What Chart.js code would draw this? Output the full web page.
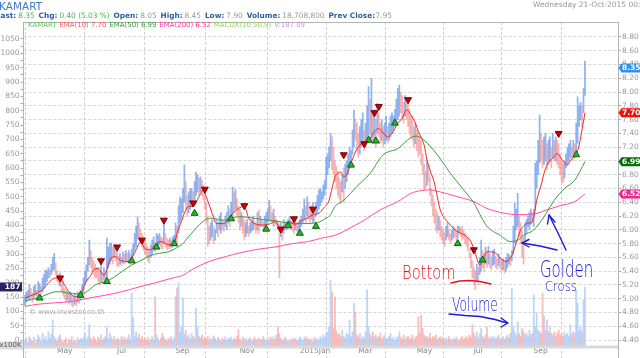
<!DOCTYPE html>
<html><head><meta charset="utf-8">
<script src="https://cdn.jsdelivr.net/npm/chart.js@4.4.1/dist/chart.umd.min.js"></script>
<style>html,body{margin:0;padding:0;background:#fff;overflow:hidden}canvas{display:block}</style>
</head><body>
<canvas id="c" width="640" height="358" style="width:640px;height:358px"></canvas>
<script>
const symbol = 'KAMART';
const quote = {last: 8.35, chg: 0.40, chgPct: 5.03, open: 8.05, high: 8.45, low: 7.90, volume: '18,708,800', prevClose: 7.95, date: 'Wednesday 21-Oct-2015 00:00'};
const monthLabels = ['May','Jul','Sep','Nov','2015Jan','Mar','May','Jul','Sep'];
const monthStart = [21,62,102,146,187,227,267,306,347];
const leftTicks = [0,25,50,75,100,125,150,175,200,225,250,275,300,325,350,375,400,425,450,475,500,525,550,575,600,625,650,675,700,725,750,775,800,825,850,875,900,925,950,975,1000,1025,1050];
const rightTicks = [4.4,4.6,4.8,5.0,5.2,5.4,5.6,5.8,6.0,6.2,6.4,6.6,6.8,7.0,7.2,7.4,7.6,7.8,8.0,8.2,8.4,8.6,8.8];

const low = [
4.90,4.95,5.00,4.98,5.02,4.95,5.00,5.05,5.00,5.05,
5.10,5.05,5.10,5.15,5.20,5.25,5.30,5.30,5.35,5.40,
5.42,5.35,5.25,5.20,5.18,5.10,5.05,5.00,4.95,4.98,
4.92,4.95,4.90,4.88,4.92,4.90,4.95,4.93,4.98,5.05,
5.10,5.20,5.25,5.40,5.49,5.45,5.40,5.35,5.30,5.30,
5.25,5.20,5.25,5.22,5.28,5.23,5.30,5.45,5.50,5.55,
5.50,5.60,5.55,5.48,5.46,5.50,5.48,5.52,5.50,5.55,
5.52,5.55,5.50,5.58,5.62,5.70,5.75,5.88,5.85,5.80,
5.75,5.70,5.65,5.60,5.55,5.52,5.60,5.65,5.70,5.68,
5.72,5.75,5.78,5.75,5.72,5.80,5.75,5.72,5.71,5.75,
5.72,5.75,5.78,5.80,5.76,5.95,6.10,6.15,6.25,6.40,
6.30,6.20,6.25,6.30,6.35,6.34,6.40,6.50,6.55,6.50,
6.55,6.50,6.43,6.30,6.10,5.76,5.80,5.85,5.90,5.80,
5.85,5.95,5.90,6.00,5.95,6.00,5.98,6.05,6.00,6.10,
6.05,6.15,6.20,6.25,6.30,6.20,6.10,6.00,6.05,5.95,
5.85,5.90,5.95,5.90,5.95,5.98,6.00,6.02,5.95,6.00,
5.95,6.05,6.05,6.00,6.02,6.05,6.10,6.15,6.12,6.10,
6.05,6.08,6.05,6.00,5.30,5.90,5.85,5.95,6.00,6.00,
6.02,6.05,6.00,5.98,5.95,6.00,5.98,5.95,6.00,6.05,
6.10,6.15,6.10,6.20,6.15,6.10,6.15,6.10,6.12,6.20,
6.25,6.30,6.35,6.40,6.45,6.50,6.60,6.80,6.90,7.00,
6.87,6.80,6.70,6.60,6.50,6.45,6.38,6.55,6.40,6.60,
6.70,6.80,6.90,6.95,7.10,7.20,7.30,7.15,7.05,7.10,
7.20,7.25,7.15,7.20,7.30,7.35,7.40,7.30,7.25,7.30,
7.20,7.40,7.35,7.25,7.30,7.20,7.25,7.30,7.26,7.30,
7.35,7.40,7.45,7.50,7.55,7.60,7.65,7.70,7.60,7.55,
7.65,7.60,7.50,7.40,7.35,7.30,7.20,7.25,7.15,7.06,
7.10,6.95,6.80,6.58,6.60,6.65,6.70,6.50,6.35,6.20,
6.10,6.00,5.95,6.00,5.90,5.85,5.80,5.76,5.85,5.90,
5.85,5.81,5.85,5.88,5.90,5.85,5.88,5.95,5.90,5.85,
5.88,5.80,5.76,5.70,5.60,5.45,5.30,5.20,5.13,5.25,
5.20,5.35,5.40,5.45,5.40,5.50,5.45,5.50,5.45,5.42,
5.48,5.50,5.45,5.42,5.48,5.44,5.40,5.42,5.37,5.40,
5.45,5.50,5.48,5.55,5.65,5.80,6.00,6.05,5.90,5.80,
5.60,5.50,5.85,5.95,6.05,6.00,6.08,6.10,6.05,6.29,
6.60,6.80,6.97,7.00,6.90,6.95,7.00,6.87,6.95,7.00,
6.90,7.05,7.00,7.00,6.95,6.90,6.80,6.70,6.68,6.75,
6.90,6.95,7.00,7.05,7.00,7.10,7.05,7.15,7.26,7.50,
7.60,7.50,7.70,7.95];

const high = [
5.05,5.10,5.12,5.20,5.15,5.08,5.18,5.20,5.12,5.25,
5.22,5.18,5.30,5.35,5.42,5.40,5.45,5.42,5.50,5.60,
5.66,5.52,5.40,5.35,5.37,5.30,5.25,5.15,5.12,5.10,
5.08,5.10,5.05,5.02,5.08,5.00,5.10,5.05,5.12,5.20,
5.30,5.40,5.49,5.60,5.85,5.70,5.60,5.55,5.50,5.45,
5.45,5.40,5.50,5.38,5.45,5.40,5.88,5.75,5.80,5.81,
5.75,5.78,5.72,5.70,5.62,5.66,5.60,5.68,5.65,5.70,
5.66,5.70,5.65,5.72,5.80,5.95,6.05,6.19,6.10,6.00,
5.95,5.90,5.85,5.80,5.75,5.70,5.78,5.85,5.90,5.82,
5.95,5.92,5.95,5.90,5.88,6.15,5.95,5.88,5.85,5.88,
5.85,5.90,5.92,6.10,6.05,6.35,6.48,6.45,6.60,6.94,
6.70,6.50,6.55,6.60,6.60,6.55,6.70,6.84,6.80,6.75,
6.77,6.72,6.65,6.55,6.40,6.20,6.05,6.10,6.15,6.05,
6.00,6.15,6.10,6.20,6.25,6.15,6.12,6.20,6.25,6.35,
6.30,6.40,6.62,6.55,6.58,6.45,6.34,6.30,6.25,6.20,
6.15,6.10,6.15,6.05,6.10,6.15,6.20,6.12,6.10,6.25,
6.29,6.20,6.15,6.12,6.20,6.25,6.30,6.43,6.35,6.25,
6.30,6.20,6.15,6.12,6.08,6.10,6.05,6.15,6.10,6.12,
6.15,6.19,6.12,6.10,6.08,6.12,6.05,6.10,6.15,6.20,
6.30,6.45,6.35,6.48,6.40,6.30,6.35,6.40,6.30,6.40,
6.50,6.58,6.60,6.55,6.65,6.72,7.06,7.10,7.20,7.40,
7.35,7.20,7.00,6.92,6.85,6.75,6.70,6.80,6.90,6.95,
7.00,7.10,7.20,7.15,7.45,7.74,7.60,7.55,7.40,7.50,
7.60,7.70,7.45,7.55,7.80,8.08,7.90,8.20,7.70,7.75,
7.60,7.84,7.70,7.55,7.60,7.50,7.55,7.65,7.50,7.55,
7.65,7.70,7.65,7.75,7.90,8.05,8.10,8.00,7.95,7.85,
7.95,7.90,7.84,7.75,7.65,7.64,7.50,7.55,7.45,7.40,
7.35,7.30,7.10,6.95,6.85,7.01,6.95,6.77,6.60,6.50,
6.40,6.30,6.25,6.20,6.14,6.05,6.00,5.95,6.05,6.10,
6.00,5.95,6.00,6.05,6.02,5.98,6.05,6.05,6.02,6.05,
6.00,5.95,5.90,5.88,5.71,5.66,5.55,5.45,5.40,5.50,
5.45,5.60,5.85,5.70,5.65,5.75,5.70,5.76,5.65,5.60,
5.70,5.72,5.62,5.58,5.65,5.60,5.56,5.58,5.55,5.60,
5.66,5.64,5.62,5.70,6.05,6.39,6.30,6.53,6.20,6.10,
6.00,5.90,6.10,6.15,6.20,6.25,6.30,6.25,6.30,6.97,
7.00,7.30,7.67,7.40,7.30,7.35,7.40,7.25,7.30,7.35,
7.20,7.40,7.30,7.35,7.30,7.25,7.10,7.00,6.95,7.00,
7.10,7.20,7.25,7.30,7.20,7.30,7.25,7.55,7.93,7.80,
7.85,7.80,8.05,8.45];

const volume = [
18,25,12,30,22,15,28,10,20,35,26,14,40,22,30,18,45,25,38,82,
30,22,15,28,35,20,12,18,25,10,22,16,30,14,20,12,26,18,24,20,
28,42,20,30,67,25,18,30,22,15,28,20,35,18,25,30,60,22,40,28,
20,30,18,25,22,15,30,20,28,18,24,35,20,168,90,30,45,25,38,22,
30,20,25,18,28,15,22,30,20,156,35,24,18,26,40,28,20,15,25,22,
30,18,25,156,184,200,45,60,152,38,50,28,35,22,40,30,25,120,61,30,
25,35,20,28,22,30,18,26,20,32,24,18,28,22,15,25,20,30,18,24,
22,28,18,25,20,30,51,22,16,28,20,24,18,22,26,15,20,28,18,22,
25,18,22,30,20,16,24,18,28,22,30,20,35,61,40,25,18,22,28,20,
15,22,18,26,20,24,16,20,28,22,18,25,30,20,24,18,22,15,28,20,
24,18,30,22,35,28,40,45,60,209,171,55,156,48,35,40,28,50,30,25,
40,35,82,30,45,136,108,35,28,40,22,30,25,45,178,60,38,30,45,28,
35,25,30,40,22,28,35,20,25,30,40,22,28,18,25,30,45,28,22,35,
20,28,30,22,25,35,20,28,30,93,40,98,55,35,28,30,25,40,22,30,
28,35,20,25,30,22,28,18,25,20,30,22,18,25,20,28,22,18,25,30,
20,25,30,22,35,28,67,40,30,45,25,38,55,30,25,35,60,28,22,30,
25,30,22,28,35,20,25,30,22,28,35,25,40,183,60,45,35,77,40,30,
55,45,35,40,30,50,35,40,162,60,105,50,45,40,168,95,50,82,45,60,
40,35,45,30,40,50,35,40,30,45,35,40,30,67,38,45,40,178,136,50,
60,45,146,187.09];

const ema10 = [[0,5.01],[12,5.13],[17,5.25],[21,5.30],[24,5.30],[27,5.20],[30,5.10],[34,5.03],[38,5.05],[41,5.22],[45,5.34],[47,5.42],[50,5.44],[54,5.34],[56,5.42],[58,5.56],[62,5.61],[65,5.56],[69,5.54],[72,5.56],[76,5.71],[79,5.83],[82,5.73],[86,5.71],[89,5.78],[93,5.83],[96,5.80],[100,5.78],[102,5.80],[104,5.95],[107,6.12],[109,6.24],[112,6.34],[115,6.34],[119,6.48],[122,6.58],[124,6.48],[128,6.24],[131,6.09],[136,6.09],[140,6.19],[146,6.31],[150,6.34],[153,6.17],[157,6.09],[163,6.07],[168,6.09],[171,6.12],[175,6.02],[178,6.07],[181,6.12],[185,6.07],[188,6.12],[193,6.17],[197,6.22],[201,6.24],[204,6.31],[208,6.43],[210,6.60],[212,6.77],[214,6.82],[216,6.84],[218,6.77],[220,6.80],[223,6.97],[226,7.13],[229,7.23],[233,7.28],[235,7.30],[239,7.43],[242,7.47],[244,7.43],[248,7.35],[251,7.40],[255,7.55],[258,7.62],[261,7.74],[264,7.67],[267,7.55],[269,7.43],[273,7.23],[275,7.01],[277,6.87],[280,6.68],[282,6.48],[284,6.29],[288,6.14],[291,6.07],[294,6.00],[298,5.95],[301,5.92],[305,5.83],[308,5.66],[311,5.49],[315,5.66],[318,5.68],[322,5.66],[325,5.59],[329,5.54],[332,5.59],[334,5.68],[337,5.88],[339,6.00],[341,6.05],[344,6.10],[346,6.10],[348,6.19],[350,6.43],[353,6.65],[355,6.82],[357,6.94],[361,7.04],[364,7.11],[366,7.06],[369,6.97],[371,6.94],[373,7.01],[377,7.09],[379,7.23],[381,7.45],[383,7.70]];
const ema50 = [[0,4.97],[9,5.01],[16,5.07],[21,5.10],[25,5.10],[30,5.08],[35,5.07],[39,5.07],[44,5.13],[48,5.20],[55,5.25],[60,5.30],[66,5.39],[73,5.49],[78,5.54],[85,5.62],[92,5.66],[98,5.68],[103,5.73],[108,5.80],[110,5.85],[116,6.00],[123,6.14],[128,6.17],[135,6.14],[139,6.15],[146,6.19],[153,6.18],[162,6.15],[171,6.13],[180,6.10],[190,6.09],[199,6.10],[206,6.17],[209,6.22],[212,6.34],[218,6.43],[227,6.63],[236,6.82],[245,7.09],[255,7.18],[264,7.34],[268,7.36],[273,7.30],[282,7.09],[291,6.82],[300,6.58],[307,6.39],[312,6.19],[316,6.05],[325,5.92],[332,5.83],[337,5.85],[341,5.92],[348,6.00],[355,6.19],[362,6.43],[369,6.60],[376,6.72],[383,6.99]];
const ema200 = [[0,4.89],[9,4.92],[21,4.94],[32,4.96],[44,5.01],[55,5.05],[66,5.10],[78,5.17],[89,5.23],[101,5.30],[108,5.34],[114,5.42],[126,5.54],[137,5.61],[148,5.67],[160,5.72],[171,5.75],[183,5.80],[194,5.83],[203,5.88],[212,5.92],[220,6.00],[232,6.14],[243,6.29],[255,6.41],[264,6.53],[271,6.57],[277,6.58],[284,6.55],[296,6.48],[307,6.41],[316,6.31],[328,6.24],[337,6.22],[348,6.23],[357,6.29],[366,6.35],[376,6.41],[383,6.52]];
const buySignals = [[10,5.01],[38,5.05],[56,5.25],[73,5.55],[90,5.75],[102,5.80],[116,6.24],[141,6.16],[165,6.01],[180,6.06],[188,5.95],[199,6.05],[223,6.94],[235,7.30],[240,7.29],[253,7.55],[296,5.80],[313,5.56],[377,7.09]];
const sellSignals = [[24,5.30],[52,5.55],[63,5.75],[80,5.85],[95,6.14],[115,6.39],[123,6.59],[150,6.35],[175,6.01],[184,6.16],[197,6.30],[218,7.09],[232,7.25],[239,7.70],[242,7.79],[262,7.89],[307,5.71],[365,7.40]];

const N = low.length;
const dir = low.map((l,i) => i === 0 ? 1 : ((l + high[i]) >= (low[i-1] + high[i-1]) ? 1 : -1));
const UP = 'rgba(104,152,235,0.72)', DN = 'rgba(242,135,135,0.6)';
const VUP = 'rgba(168,200,245,0.75)', VDN = 'rgba(245,170,170,0.75)';
const F = '"DejaVu Sans", Verdana, sans-serif';
const last = a => a[a.length-1][1];

function txt(ctx, s, x, y, font, color, align, base){
  ctx.font = font; ctx.fillStyle = color; ctx.textAlign = align || 'left'; ctx.textBaseline = base || 'alphabetic'; ctx.fillText(s, x, y);
}
// draw pieces sequentially, horizontally fitted between x0 and x1
function row(ctx, parts, x0, x1, y, base){
  let w = 0;
  parts.forEach(p => { ctx.font = p.f; p.w = ctx.measureText(p.t).width; w += p.w + p.g; });
  const k = Math.min(1, (x1 - x0) / w);
  ctx.save(); ctx.translate(x0, y); ctx.scale(k, 1);
  let x = 0;
  parts.forEach(p => { txt(ctx, p.t, x, 0, p.f, p.c, 'left', base || 'alphabetic'); x += p.w + p.g; });
  ctx.restore();
}
function hand(ctx, s, x, y, size, sx, sy, color){
  ctx.save(); ctx.translate(x, y); ctx.scale(sx, sy);
  ctx.font = '200 ' + size + 'px "DejaVu Sans ExtraLight", "DejaVu Sans", sans-serif'; ctx.fillStyle = color;
  ctx.textAlign = 'left'; ctx.textBaseline = 'alphabetic'; ctx.fillText(s, 0, 0); ctx.restore();
}
function poly(ctx, pts, color, w){
  ctx.save(); ctx.strokeStyle = color; ctx.lineWidth = w; ctx.lineCap = 'round'; ctx.lineJoin = 'round';
  ctx.beginPath(); pts.forEach((p,i) => i ? ctx.lineTo(p[0],p[1]) : ctx.moveTo(p[0],p[1])); ctx.stroke(); ctx.restore();
}

const deco = {
  id: 'deco',
  beforeDraw(c){ const ctx = c.ctx; ctx.save(); ctx.fillStyle = '#fff'; ctx.fillRect(0,0,c.width,c.height); ctx.restore(); },
  beforeDatasetsDraw(c){
    const ctx = c.ctx; ctx.save();
    txt(ctx, '\u00a9 www.investor.co.th', 29, 312, '7px ' + F, '#a8a8a8', 'left', 'middle');
    ctx.restore();
  },
  afterDraw(c){
    const ctx = c.ctx, a = c.chartArea, yR = c.scales.yR, yV = c.scales.yV;
    ctx.save();
    ctx.fillStyle = '#d9d9d9'; ctx.fillRect(a.left, a.bottom - 0.5, a.right - a.left, 3);
    ctx.strokeStyle = '#b4b4b4'; ctx.lineWidth = 1; ctx.beginPath();
    ctx.moveTo(a.left, a.top + 0.5); ctx.lineTo(a.right, a.top + 0.5);
    ctx.moveTo(a.left, a.bottom); ctx.lineTo(a.left, 358);
    ctx.moveTo(a.right + 0.5, a.bottom); ctx.lineTo(a.right + 0.5, 358);
    ctx.stroke();
    ctx.fillStyle = '#dcdcdc'; ctx.fillRect(0, a.bottom - 4.5, a.left - 0.5, 8);
    txt(ctx, 'x100K', a.left - 2, a.bottom - 0.5, '7px ' + F, '#555', 'right', 'middle');
    const yv = yV.getPixelForValue(volume[N-1]);
    ctx.fillStyle = '#2e2161'; ctx.fillRect(0, yv - 4.5, a.left - 1.5, 9);
    txt(ctx, String(Math.round(volume[N-1])), a.left - 3, yv + 0.5, 'bold 7.5px ' + F, '#fff', 'right', 'middle');
    const boxes = [[quote.last, '#2f8ff0'], [last(ema10), '#ee1111'], [last(ema50), '#0b6b0b'], [last(ema200), '#f0268c']];
    boxes.forEach(([v, col]) => {
      const y = yR.getPixelForValue(v);
      ctx.fillStyle = col; ctx.beginPath();
      ctx.moveTo(a.right + 0.5, y); ctx.lineTo(a.right + 3.5, y - 4.5); ctx.lineTo(640, y - 4.5);
      ctx.lineTo(640, y + 4.5); ctx.lineTo(a.right + 3.5, y + 4.5); ctx.closePath(); ctx.fill();
      txt(ctx, v.toFixed(2), a.right + 4, y + 0.5, 'bold 7.5px ' + F, '#fff', 'left', 'middle');
    });
    // header
    txt(ctx, symbol, -1, 9.5, '10.5px ' + F, '#3d7cc9');
    const L = 'bold 7.5px ' + F, V = '7.5px ' + F, LB = '#2e5e9e', G = '#4db34d', GR = '#9a9a9a';
    row(ctx, [
      {t:'Last:', f:L, c:LB, g:2}, {t:quote.last.toFixed(2), f:V, c:G, g:4},
      {t:'Chg:', f:L, c:LB, g:2}, {t:quote.chg.toFixed(2) + ' (' + quote.chgPct.toFixed(2) + ' %)', f:V, c:G, g:4},
      {t:'Open:', f:L, c:LB, g:2}, {t:quote.open.toFixed(2), f:V, c:GR, g:4},
      {t:'High:', f:L, c:LB, g:2}, {t:quote.high.toFixed(2), f:V, c:GR, g:4},
      {t:'Low:', f:L, c:LB, g:2}, {t:quote.low.toFixed(2), f:V, c:GR, g:4},
      {t:'Volume:', f:L, c:LB, g:2}, {t:quote.volume, f:V, c:GR, g:4},
      {t:'Prev Close:', f:L, c:LB, g:0.5}, {t:quote.prevClose.toFixed(2), f:V, c:GR, g:0}
    ], -4.2, 392, 17.5);
    txt(ctx, quote.date, 533, 5, '7.5px ' + F, '#999', 'left', 'middle');
    const LF = '7px ' + F;
    row(ctx, [
      {t:symbol, f:LF, c:'#5cc85c', g:3},
      {t:'EMA(10) ' + last(ema10).toFixed(2), f:LF, c:'#ff5555', g:3},
      {t:'EMA(50) ' + last(ema50).toFixed(2), f:LF, c:'#3a9a3a', g:3},
      {t:'EMA(200) ' + last(ema200).toFixed(2), f:LF, c:'#ff3399', g:3},
      {t:'MACDX(10,50,9)', f:LF, c:'#99cc66', g:3},
      {t:'V:' + volume[N-1].toFixed(2), f:LF, c:'#b69de0', g:0}
    ], 28, 305, 25.5, 'middle');
    // hand annotations
    const RED = '#e8141a', BLUE = '#1b1bd6';
    hand(ctx, 'Bottom', 402, 279, 14, 1.05, 1.4, RED);
    poly(ctx, [[451,283],[460,281],[470,280.5],[480,281.5],[491,284]], RED, 1.3);
    hand(ctx, 'Volume', 452, 311, 13, 0.95, 1.45, BLUE);
    poly(ctx, [[449,314],[465,315.5],[480,316.5],[495,319.5],[507,323]], BLUE, 1.4);
    poly(ctx, [[501,318],[508,323],[501,327]], BLUE, 1.4);
    hand(ctx, 'Golden', 540, 277, 15, 1.0, 1.5, BLUE);
    hand(ctx, 'Cross', 545, 291, 11, 1.05, 1.3, BLUE);
    poly(ctx, [[557,250],[540,246],[522,243]], BLUE, 1.4);
    poly(ctx, [[529,239.5],[522,243],[529,247]], BLUE, 1.4);
    poly(ctx, [[566,250],[558,233],[549,215]], BLUE, 1.4);
    poly(ctx, [[547.5,224],[549,215],[555,222]], BLUE, 1.4);
    ctx.restore();
  }
};

new Chart(document.getElementById('c'), {
  type: 'bar',
  data: {
    datasets: [
      { type: 'bar', label: 'Volume', yAxisID: 'yV', data: volume.map((v,i) => ({x: i, y: v})),
        backgroundColor: dir.map(d => d > 0 ? VUP : VDN), barThickness: 1.2, grouped: false, borderWidth: 0, order: 9 },
      { type: 'bar', label: symbol, yAxisID: 'yR', data: low.map((l,i) => ({x: i, y: [l, high[i]]})),
        backgroundColor: dir.map(d => d > 0 ? UP : DN), barThickness: 1.1, grouped: false, borderWidth: 0, order: 8 },
      { type: 'line', label: 'EMA(200)', yAxisID: 'yR', data: ema200.map(([x,y]) => ({x, y})),
        borderColor: '#ff4da6', borderWidth: 1, pointRadius: 0, cubicInterpolationMode: 'monotone', order: 5 },
      { type: 'line', label: 'EMA(50)', yAxisID: 'yR', data: ema50.map(([x,y]) => ({x, y})),
        borderColor: '#3f9b3f', borderWidth: 1, pointRadius: 0, cubicInterpolationMode: 'monotone', order: 4 },
      { type: 'line', label: 'EMA(10)', yAxisID: 'yR', data: ema10.map(([x,y]) => ({x, y})),
        borderColor: '#f02828', borderWidth: 1, pointRadius: 0, cubicInterpolationMode: 'monotone', order: 3 },
      { type: 'scatter', label: 'Buy', yAxisID: 'yR', data: buySignals.map(([x,y]) => ({x, y})),
        pointStyle: 'triangle', pointRadius: 4, backgroundColor: '#22bb22', borderColor: '#0b5d0b', borderWidth: 1, order: 2 },
      { type: 'scatter', label: 'Sell', yAxisID: 'yR', data: sellSignals.map(([x,y]) => ({x, y})),
        pointStyle: 'triangle', rotation: 180, pointRadius: 4, backgroundColor: '#c80000', borderColor: '#7a0000', borderWidth: 1, order: 1 }
    ]
  },
  options: {
    responsive: false, animation: false, devicePixelRatio: 1, events: [],
    layout: { padding: { top: 22, left: 0, right: 0, bottom: 0 } },
    plugins: { legend: { display: false }, tooltip: { enabled: false } },
    scales: {
      x: { type: 'linear', min: -1.03, max: 405.6, offset: false,
        afterBuildTicks: s => { s.ticks = monthStart.map(v => ({ value: v - 0.5 })); },
        afterFit: s => { s.height = 12; },
        grid: { color: '#d2d2d2', lineWidth: 1, drawTicks: true, tickLength: 12, tickColor: '#d2d2d2', tickBorderDash: [3,2] },
        border: { display: false, dash: [3,2] },
        ticks: { callback: (v, i) => monthLabels[i], font: { family: F, size: 7.5 }, color: '#888', align: 'start', labelOffset: 2, padding: -11, autoSkip: false, maxRotation: 0 }
      },
      yL: { position: 'left', min: -20.9, max: 1109.3,
        afterBuildTicks: s => { s.ticks = leftTicks.map(v => ({ value: v })); },
        afterFit: s => { s.width = 23.5; },
        grid: { drawOnChartArea: false, tickLength: 3, tickColor: '#aaa' },
        border: { color: '#b4b4b4' },
        ticks: { callback: v => (v % 50 === 0 ? String(v) : ''), font: { family: F, size: 7.5 }, color: '#999', padding: 1, autoSkip: false }
      },
      yR: { position: 'right', min: 4.3129, max: 9.0178,
        afterBuildTicks: s => { s.ticks = rightTicks.map(v => ({ value: v })); },
        afterFit: s => { s.width = 22; },
        grid: { drawOnChartArea: true, color: '#d6d6d6', tickLength: 3, tickColor: '#aaa', tickBorderDash: [] },
        border: { color: '#b4b4b4', dash: [3,2] },
        ticks: { callback: v => Number(v).toFixed(2), font: { family: F, size: 7.5 }, color: '#999', padding: 1, autoSkip: false }
      },
      yV: { display: false, min: 0, max: 1027 }
    }
  },
  plugins: [deco]
});
</script>
</body></html>
